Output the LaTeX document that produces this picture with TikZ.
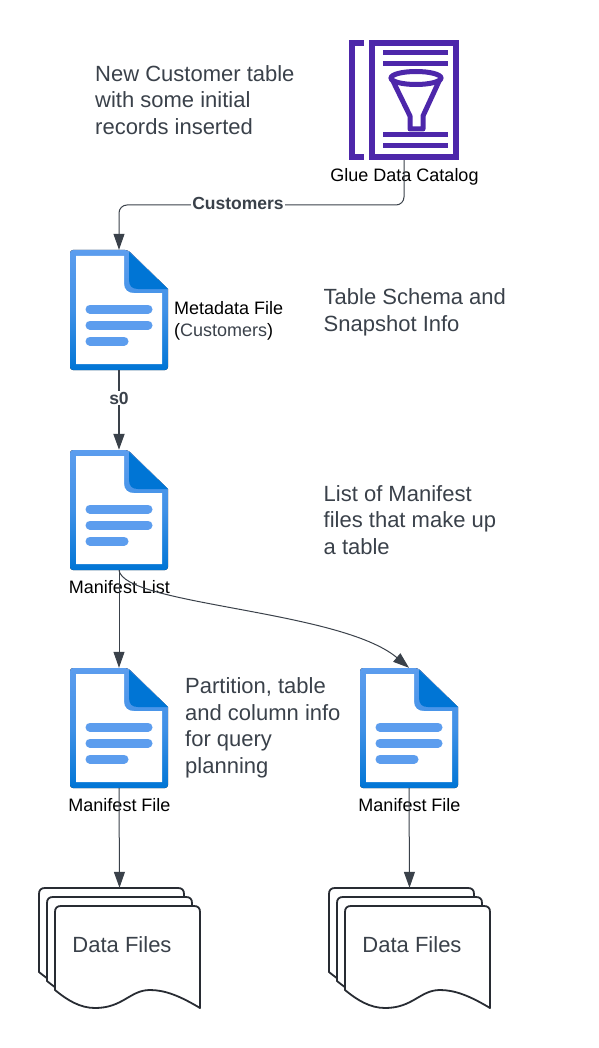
\documentclass[tikz,border=0pt]{standalone}
\usepackage{fontspec}
\setmainfont{Liberation Sans}
\usetikzlibrary{arrows.meta}

\definecolor{gluepurple}{HTML}{4D27AA}
\definecolor{doclight}{HTML}{5C9DEE}
\definecolor{docdark}{HTML}{0075D5}
\definecolor{inkgray}{HTML}{3A414A}
\definecolor{stackline}{HTML}{282C33}

\tikzset{
  docbox/.style={minimum width=98pt,minimum height=120pt,inner sep=0pt},
  gluebox/.style={minimum width=110pt,minimum height=120pt,inner sep=0pt},
  notetext/.style={font=\fontsize{22}{26.6}\selectfont,text=inkgray,align=left,anchor=west,inner sep=0pt},
  iconlabel/.style={font=\fontsize{18}{22}\selectfont,text=black,align=left,inner sep=0pt},
  linklabel/.style={font=\fontsize{17.5}{20}\selectfont\bfseries,text=inkgray,fill=white,inner sep=1pt},
  link/.style={draw=inkgray,line width=#1,-{Triangle[length=16pt,width=11pt]}},
  link/.default=1pt,
  docline/.style={line width=9pt,draw=doclight,line cap=round},
  stacksheet/.style={draw=stackline,line width=1.8pt,fill=white,line join=round},
}

% document icon, named #1, top left corner at (#2,#3)
\newcommand{\docicon}[3]{
  \node[docbox] (#1) at (#2+49,#3+60) {};
  \begin{scope}[shift={(#2,#3)}]
    \fill[top color=doclight,bottom color=docdark,middle color=doclight!70!docdark,rounded corners=3pt]
      (0,60) -- (0,0) -- (58,0) [sharp corners] -- (98,39) [rounded corners=3pt] -- (98,120) -- (0,120) -- cycle;
    \fill[white] (6,6) -- (54,6) -- (54,33) .. controls (54,40) and (58,43) .. (64,43)
      -- (92,43) -- (92,114) -- (6,114) -- cycle;
    \fill[docdark] (59,2) -- (98,39) -- (68,39) .. controls (62,39) and (59,36) .. (59,30) -- cycle;
    \draw[docline] (20,59) -- (78,59);
    \draw[docline] (20,75) -- (78,75);
    \draw[docline] (20,91) -- (54,91);
  \end{scope}
}

% one data file sheet, left top corner at (#1,#2)
\newcommand{\sheet}[2]{
  \draw[stacksheet,shift={(#1,#2)}] (0,84) -- (0,6) .. controls (0,2) and (2,0) .. (6,0) -- (139,0)
    .. controls (143,0) and (145,2) .. (145,6) -- (145,102)
    .. controls (125,90) and (110,84) .. (95,84)
    .. controls (75,84) and (68,102) .. (40,102) .. controls (25,102) and (12,94) .. (0,84) -- cycle;
}
\newcommand{\datastack}[4]{
  \node[inner sep=0pt,minimum width=161pt,minimum height=120pt] (#1) at (#2+80.5,#3+60) {};
  \sheet{#2}{#3}
  \sheet{#2+8}{#3+9}
  \sheet{#2+16}{#3+18}
  \node[notetext,anchor=center] (#4) at (#2+83,#3+57) {Data Files};
}

\begin{document}
\begin{tikzpicture}[x=1pt,y=-1pt]
\useasboundingbox (0,0) rectangle (598,1048);

% Glue catalog icon
\node[gluebox] (glue) at (404,100) {};
\draw[gluepurple,line width=6pt] (364,43) -- (352,43) -- (352,157) -- (364,157);
\draw[gluepurple,line width=6pt] (372,43) rectangle (456,157);
\foreach \liney in {53,64,135,146}
  \draw[gluepurple,line width=5pt] (383,\liney) -- (448,\liney);
\draw[gluepurple,line width=5pt,line join=round] (391.5,78) -- (410,116) -- (410,129) -- (423,129) -- (423,116) -- (440.5,78);
\draw[gluepurple,line width=5pt,fill=white] (416,78) ellipse [x radius=25,y radius=6.5];
\node[iconlabel,anchor=center] (gluetxt) at (404.5,177) {Glue Data Catalog};

% Files
\docicon{meta}{70}{250}
\docicon{list}{70}{450}
\docicon{fileone}{70}{668}
\docicon{filetwo}{360}{668}
\datastack{dataone}{39}{888}{dataonetxt}
\datastack{datatwo}{329}{888}{datatwotxt}

% File labels
\node[iconlabel,anchor=west] (metatxt) at (174,320.5) {Metadata File\\(\textcolor{inkgray}{Customers})};
\node[iconlabel,anchor=center] (listtxt) at (119.5,587.5) {Manifest List};
\node[iconlabel,anchor=center] (fileonetxt) at (119.5,805.5) {Manifest File};
\node[iconlabel,anchor=center] (filetwotxt) at (409.5,805.5) {Manifest File};

% Notes
\node[notetext] (newtxt) at (95,100) {New Customer table\\with some initial\\records inserted};
\node[notetext] (schematxt) at (323.5,312.5) {Table Schema and\\Snapshot Info};
\node[notetext] (listnote) at (323.5,520) {List of Manifest\\files that make up\\a table};
\node[notetext] (partnote) at (185,728) {Partition, table\\and column info\\for query\\planning};

% Connectors
\draw[link=1pt,rounded corners=8pt] (glue.south) -- (404,205) -- (119,205) -- (meta.north);
\node[linklabel] (custlabel) at (238,203) {Customers};
\draw[link=1.8pt] (meta.south) -- (list.north);
\node[linklabel] (snaplabel) at (119,398) {s0};
\draw[link=1pt] (list.south) -- (fileone.north);
\draw[link=1pt] (list.south) .. controls +(5,35) and +(-69,-58) .. (filetwo.north);
\draw[link=1pt] (fileone.south) -- (dataone.north);
\draw[link=1pt] (filetwo.south) -- (datatwo.north);
\end{tikzpicture}
\end{document}
